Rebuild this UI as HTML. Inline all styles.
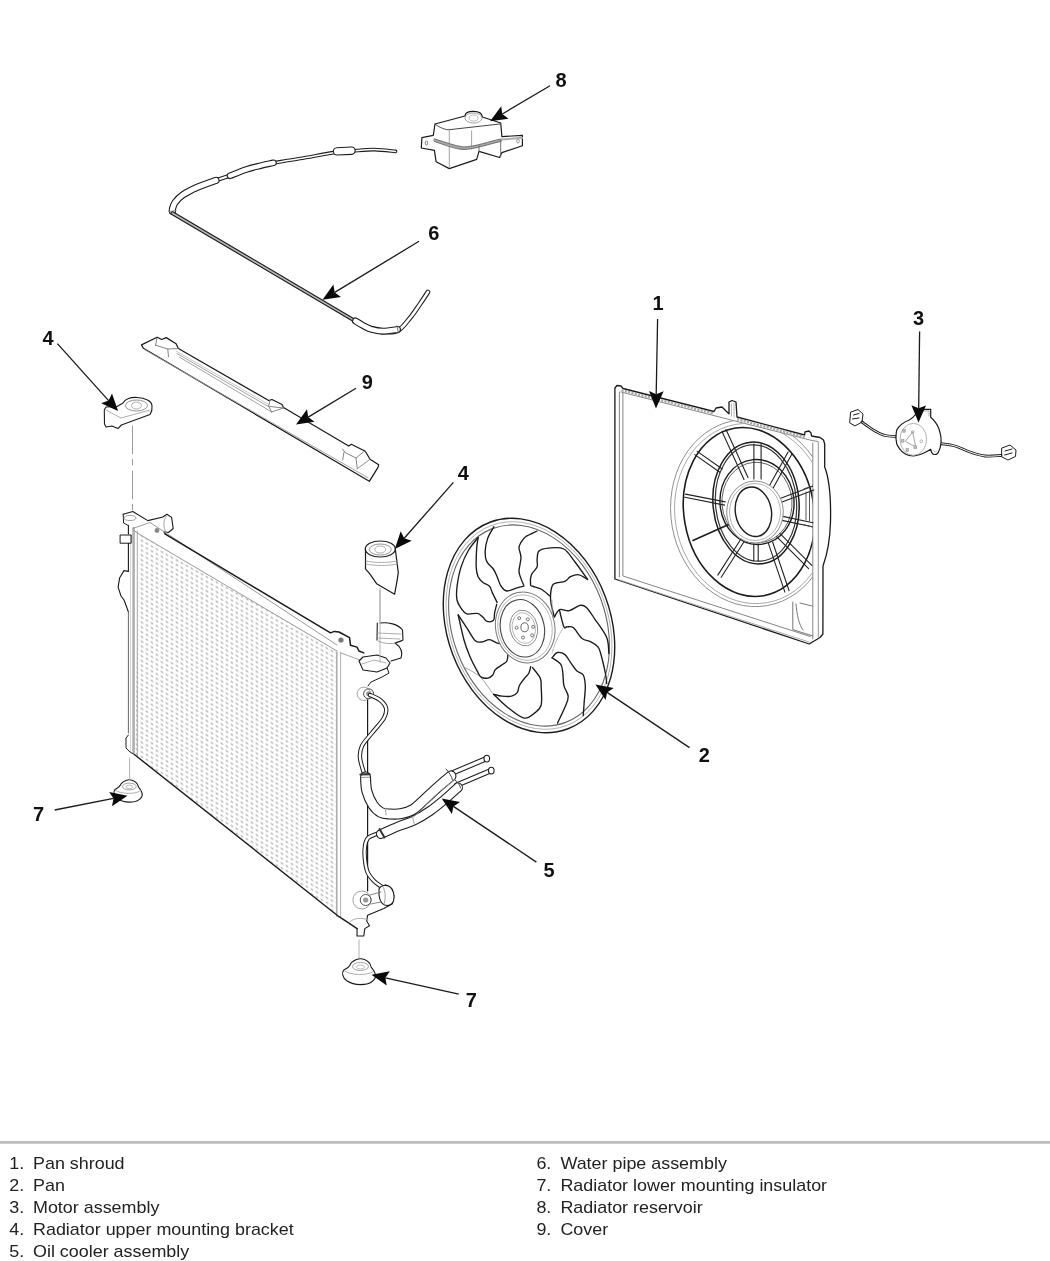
<!DOCTYPE html>
<html><head><meta charset="utf-8"><style>
html,body{margin:0;padding:0;background:#fff;}
body{width:1050px;height:1261px;overflow:hidden;}
svg{display:block;}
#wrap{width:1050px;height:1261px;will-change:transform;}
.lb{font-family:"Liberation Sans",sans-serif;font-weight:bold;font-size:20px;fill:#111;}
.lg{font-family:"Liberation Sans",sans-serif;font-size:16px;fill:#222;}
</style></head><body>
<div id="wrap"><svg width="1050" height="1261" viewBox="0 0 1050 1261">
<rect x="0" y="1141" width="1050" height="2.8" fill="#bfbfbf"/>
<defs>
<pattern id="dots" width="5" height="4.8" patternUnits="userSpaceOnUse" patternTransform="skewY(29)">
<rect x="0.6" y="0.6" width="2.6" height="1.7" fill="#b6b6b6"/>
</pattern>
</defs>
<path d="M139,534 L337,651 L337,915 L135,755 Z" fill="url(#dots)"/>
<path d="M133.6,528 L133.6,753" fill="none" stroke="#b0b0b0" stroke-width="2.6" stroke-linejoin="round" stroke-linecap="round" />
<path d="M137.3,531 L137.3,756" fill="none" stroke="#a8a8a8" stroke-width="1.0" stroke-linejoin="round" stroke-linecap="round" />
<path d="M130.5,535 L130.5,752" fill="none" stroke="#c8c8c8" stroke-width="0.8" stroke-linejoin="round" stroke-linecap="round" />
<path d="M128.4,525.4 L128.4,534 M128.4,543.2 L128.4,571.4 L124,570.6 L119.7,577.7 L118.1,587.2 L121,596 L124,600 L127,608 L128.4,612" fill="none" stroke="#1a1a1a" stroke-width="1.1" stroke-linejoin="round" stroke-linecap="round" />
<path d="M128.4,612 L128.4,733" fill="none" stroke="#666" stroke-width="1.0" stroke-linejoin="round" stroke-linecap="round" />
<path d="M120.5,535 L131.2,535 L131.2,543.2 L120.5,543.2 Z" fill="none" stroke="#1a1a1a" stroke-width="1.0" stroke-linejoin="round" stroke-linecap="round" />
<path d="M128.4,735 L126,738 L126,748 L130,752 L135,755" fill="none" stroke="#1a1a1a" stroke-width="1.0" stroke-linejoin="round" stroke-linecap="round" />
<path d="M123.2,514.3 L132.8,511.5 L147.8,520.6 L162.9,517 L166.9,514.3 L171.6,517.4 L173.2,528.5 L168.4,532.5 L163.7,531.7 L165.3,534.1" fill="none" stroke="#1a1a1a" stroke-width="1.1" stroke-linejoin="round" stroke-linecap="round" />
<path d="M123.2,514.3 L123.6,523 L128,525.4" fill="none" stroke="#1a1a1a" stroke-width="1.0" stroke-linejoin="round" stroke-linecap="round" />
<ellipse cx="130" cy="518" rx="6" ry="2.6" fill="none" stroke="#999" stroke-width="0.9"/>
<path d="M166.5,516 C163,520 163,528 166,532" fill="none" stroke="#9a9a9a" stroke-width="0.9" stroke-linejoin="round" stroke-linecap="round" />
<path d="M132.8,528.5 L150,522.5 L337,645" fill="none" stroke="#9a9a9a" stroke-width="1.0" stroke-linejoin="round" stroke-linecap="round" />
<path d="M139,534 L337,651" fill="none" stroke="#9a9a9a" stroke-width="1.0" stroke-linejoin="round" stroke-linecap="round" />
<path d="M133,530 L139,534" fill="none" stroke="#9a9a9a" stroke-width="1.0" stroke-linejoin="round" stroke-linecap="round" />
<path d="M165.3,534.1 L330.5,632.9 L334.3,631.4 L339,632 L349.5,637.6 L350.5,645.2 L357,647.1 L359,651 L363.8,652.9" fill="none" stroke="#1a1a1a" stroke-width="1.5" stroke-linejoin="round" stroke-linecap="round" />
<circle cx="341" cy="640" r="2.6" fill="#777"/>
<circle cx="157" cy="530.5" r="2.4" fill="#888"/>
<path d="M336.8,652 L336.8,916" fill="none" stroke="#b0b0b0" stroke-width="1.6" stroke-linejoin="round" stroke-linecap="round" />
<path d="M340.6,652 L340.6,917" fill="none" stroke="#a8a8a8" stroke-width="0.9" stroke-linejoin="round" stroke-linecap="round" />
<path d="M341,653 L360,660" fill="none" stroke="#9a9a9a" stroke-width="0.9" stroke-linejoin="round" stroke-linecap="round" />
<path d="M367.6,699 L367.6,891" fill="none" stroke="#1a1a1a" stroke-width="1.2" stroke-linejoin="round" stroke-linecap="round" />
<path d="M135,755 L339,916.7 L348.6,922.9 L357.1,928.6" fill="none" stroke="#1a1a1a" stroke-width="1.4" stroke-linejoin="round" stroke-linecap="round" />
<path d="M357.1,928.6 L357,936 L363.8,936 L364.8,928.6 L369.5,925.7 L366.7,921 L367.6,915.2 L383.8,908.6 L392.4,903.8 L394,896 L391,888 L386,885 L379,886.7" fill="none" stroke="#1a1a1a" stroke-width="1.1" stroke-linejoin="round" stroke-linecap="round" />
<path d="M349,923 C352,918 362,917 368,920" fill="none" stroke="#9a9a9a" stroke-width="0.8" stroke-linejoin="round" stroke-linecap="round" />
<path d="M359,940 L359,958" fill="none" stroke="#aaa" stroke-width="0.9" stroke-linejoin="round" stroke-linecap="round" />
<circle cx="361.9" cy="900" r="9" fill="none" stroke="#999" stroke-width="0.9"/>
<circle cx="365.7" cy="900" r="5.5" fill="none" stroke="#555" stroke-width="1"/>
<circle cx="365.7" cy="900" r="2.6" fill="#999"/>
<circle cx="363.8" cy="693.8" r="6.7" fill="none" stroke="#999" stroke-width="0.9"/>
<circle cx="368.6" cy="693.8" r="5" fill="none" stroke="#444" stroke-width="1"/>
<circle cx="368.6" cy="693.8" r="2.5" fill="#999"/>
<path d="M359,661 L363,657 L377,655 L386,658 L390,663 L387,668 L377,672 L363,670 Z" fill="none" stroke="#1a1a1a" stroke-width="1.1" stroke-linejoin="round" stroke-linecap="round" />
<path d="M362,664 L374,660 L386,663" fill="none" stroke="#9a9a9a" stroke-width="0.8" stroke-linejoin="round" stroke-linecap="round" />
<path d="M377.3,623 L377,640 M380,623 C388,622 398,624 402.5,630 L403,640 C400,642 397,642 395,643 C401,647 403,652 401,658 L391,661" fill="none" stroke="#1a1a1a" stroke-width="1.1" stroke-linejoin="round" stroke-linecap="round" />
<path d="M377,633 L401,634 M377,638 L400,639" fill="none" stroke="#9a9a9a" stroke-width="0.8" stroke-linejoin="round" stroke-linecap="round" />
<path d="M378,641 C384,644 392,644 395,643" fill="none" stroke="#9a9a9a" stroke-width="0.9" stroke-linejoin="round" stroke-linecap="round" />
<path d="M380,588 L380,662" fill="none" stroke="#aaa" stroke-width="0.9" stroke-linejoin="round" stroke-linecap="round" />
<path d="M387,668 L389,673 L382,677 L371,682 L368,686" fill="none" stroke="#1a1a1a" stroke-width="1.0" stroke-linejoin="round" stroke-linecap="round" />
<g transform="translate(529,625.5) rotate(-20.7) scale(0.816,1.104)">
<circle cx="0" cy="0" r="100" fill="none" stroke="#1c1c1c" stroke-width="1.4" vector-effect="non-scaling-stroke"/>
<circle cx="0" cy="0" r="96.8" fill="none" stroke="#aaa" stroke-width="0.9" vector-effect="non-scaling-stroke"/>
<circle cx="0" cy="0" r="93.8" fill="none" stroke="#666" stroke-width="1.1" vector-effect="non-scaling-stroke"/>
</g>
<path d="M478.1,537.6 C477.9,539.4 477.0,543.2 476.7,548.1 C476.4,553.0 476.0,562.3 476.2,567.1 C476.4,571.9 477.0,574.2 478.1,576.7 C479.2,579.2 481.0,580.8 482.9,582.4 C484.8,584.0 487.9,584.5 489.5,586.2 C491.1,588.0 491.1,590.2 492.4,592.9 C493.7,595.6 496.3,600.8 497.1,602.4" fill="none" stroke="#1a1a1a" stroke-width="1.35" stroke-linejoin="round" stroke-linecap="round" />
<path d="M478.1,537.6 C476.5,539.7 471.5,545.1 468.6,550.0 C465.8,554.9 462.9,561.1 461.0,567.1 C459.1,573.1 457.8,580.7 457.1,586.2 C456.4,591.7 456.3,596.3 457.0,600.0 C457.7,603.7 459.8,606.3 461.4,608.6 C463.0,610.9 464.1,613.1 466.8,613.9 C469.5,614.7 474.8,612.9 477.5,613.4 C480.2,613.9 481.2,615.8 482.8,617.1 C484.4,618.4 485.3,620.9 487.1,621.4 C488.9,621.9 492.2,621.7 493.5,620.3 C494.8,618.9 494.1,615.5 494.6,612.8 C495.1,610.1 496.4,605.7 496.7,604.3" fill="none" stroke="#1a1a1a" stroke-width="1.35" stroke-linejoin="round" stroke-linecap="round" />
<path d="M493.8,526.7 C492.8,528.7 489.0,534.6 487.6,538.6 C486.2,542.6 485.4,547.2 485.2,551.0 C485.0,554.8 485.3,558.4 486.7,561.4 C488.1,564.4 491.6,566.5 493.3,569.0 C495.0,571.5 495.8,573.8 497.1,576.7 C498.4,579.6 499.4,583.8 501.0,586.2 C502.6,588.6 504.2,590.7 506.7,591.0 C509.2,591.3 513.4,588.9 516.2,588.1 C519.1,587.3 522.5,586.5 523.8,586.2" fill="none" stroke="#1a1a1a" stroke-width="1.35" stroke-linejoin="round" stroke-linecap="round" />
<path d="M537.1,531.0 C535.2,532.0 528.4,534.8 525.7,536.7 C523.0,538.6 522.1,540.5 521.0,542.4 C519.9,544.3 519.0,545.5 519.0,548.0 C519.0,550.5 521.0,553.8 521.0,557.6 C521.0,561.4 519.0,567.5 519.0,571.0 C519.0,574.5 520.2,576.2 521.0,578.6 C521.8,581.0 523.3,584.1 523.8,585.2" fill="none" stroke="#1a1a1a" stroke-width="1.35" stroke-linejoin="round" stroke-linecap="round" />
<path d="M587.6,579.5 C585.5,576.6 579.0,567.1 575.0,562.0 C571.0,556.9 568.2,551.3 563.8,549.0 C559.4,546.7 552.7,547.8 548.6,548.1 C544.5,548.4 540.9,549.1 539.0,551.0 C537.1,552.9 537.4,556.8 537.1,559.5 C536.8,562.2 538.1,564.6 537.1,567.1 C536.1,569.6 532.5,571.9 531.4,574.8 C530.3,577.7 530.3,582.4 530.5,584.3 C530.7,586.2 530.6,585.4 532.4,586.2 C534.1,587.0 538.1,587.4 541.0,589.0 C543.9,590.6 548.1,594.6 549.5,595.7" fill="none" stroke="#1a1a1a" stroke-width="1.35" stroke-linejoin="round" stroke-linecap="round" />
<path d="M587.6,579.5 C586.2,578.7 581.9,575.3 579.0,574.8 C576.1,574.3 572.9,575.6 570.5,576.7 C568.1,577.8 567.7,580.1 564.8,581.4 C561.9,582.7 555.7,581.9 553.3,584.3 C550.9,586.7 550.8,592.2 550.5,595.7 C550.2,599.2 550.8,601.7 551.4,605.2 C552.0,608.7 553.8,614.8 554.3,616.7" fill="none" stroke="#1a1a1a" stroke-width="1.35" stroke-linejoin="round" stroke-linecap="round" />
<path d="M554.3,617.1 C555.2,615.9 557.1,610.7 559.6,609.6 C562.1,608.5 565.9,611.4 569.3,610.7 C572.7,610.0 577.1,605.9 580.0,605.4 C582.9,604.9 583.9,605.2 586.4,607.5 C588.9,609.8 591.6,614.3 595.0,619.3 C598.4,624.3 604.4,631.8 606.7,637.5 C609.0,643.2 608.5,650.8 608.9,653.5" fill="none" stroke="#1a1a1a" stroke-width="1.35" stroke-linejoin="round" stroke-linecap="round" />
<path d="M559.6,610.7 C560.3,613.4 562.6,624.1 563.9,626.8 C565.1,629.5 565.5,626.6 567.1,626.8 C568.7,627.0 571.0,625.8 573.5,627.8 C576.0,629.8 579.2,636.2 582.1,638.5 C585.0,640.8 588.0,640.4 590.7,641.8 C593.4,643.2 596.2,644.1 598.2,647.1 C600.2,650.1 601.1,655.4 602.4,660.0 C603.6,664.6 605.0,671.1 605.7,675.0 C606.4,678.9 606.5,682.1 606.7,683.5" fill="none" stroke="#1a1a1a" stroke-width="1.35" stroke-linejoin="round" stroke-linecap="round" />
<path d="M552.1,657.8 C553.0,656.9 555.4,653.0 557.5,652.5 C559.6,652.0 562.9,653.0 565.0,654.6 C567.1,656.2 568.3,659.4 570.3,662.1 C572.2,664.8 574.6,668.6 576.7,670.7 C578.9,672.9 581.8,672.5 583.2,675.0 C584.6,677.5 585.1,681.2 585.3,685.7 C585.5,690.2 584.6,696.7 584.2,701.7 C583.9,706.7 583.4,713.3 583.2,715.6" fill="none" stroke="#1a1a1a" stroke-width="1.35" stroke-linejoin="round" stroke-linecap="round" />
<path d="M552.1,657.8 C553.5,658.9 558.9,661.7 560.7,664.2 C562.5,666.7 562.3,669.2 562.8,672.8 C563.3,676.4 563.0,681.8 563.9,685.7 C564.8,689.6 568.0,692.8 568.2,696.4 C568.4,700.0 566.8,702.6 565.0,707.1 C563.2,711.6 558.8,720.4 557.5,723.1" fill="none" stroke="#1a1a1a" stroke-width="1.35" stroke-linejoin="round" stroke-linecap="round" />
<path d="M532.6,667.6 C533.9,669.4 538.8,674.8 540.2,678.1 C541.6,681.4 541.0,683.2 541.2,687.6 C541.4,692.0 542.2,700.7 541.2,704.8 C540.2,708.9 538.4,710.2 535.5,712.4 C532.6,714.6 528.8,719.0 524.0,718.1 C519.2,717.2 512.0,710.7 506.9,706.7 C501.8,702.7 495.8,696.4 493.6,694.3" fill="none" stroke="#1a1a1a" stroke-width="1.35" stroke-linejoin="round" stroke-linecap="round" />
<path d="M530.7,666.7 C530.4,667.8 529.9,671.2 528.8,673.3 C527.7,675.3 525.6,676.9 524.0,679.0 C522.4,681.1 520.4,683.5 519.3,685.7 C518.2,687.9 518.7,690.6 517.4,692.4 C516.1,694.1 514.2,695.6 511.7,696.2 C509.1,696.8 505.1,696.5 502.1,696.2 C499.1,695.9 495.0,694.6 493.6,694.3" fill="none" stroke="#1a1a1a" stroke-width="1.35" stroke-linejoin="round" stroke-linecap="round" />
<path d="M458.2,615.0 C459.2,619.2 462.1,633.1 464.0,640.0 C465.9,646.9 467.6,651.0 469.8,656.2 C472.0,661.4 475.5,667.9 477.4,671.4 C479.3,674.9 479.4,676.0 481.2,677.1 C482.9,678.2 486.0,678.4 487.9,678.1 C489.8,677.8 491.3,676.6 492.6,675.2 C493.9,673.8 493.9,671.2 495.5,669.5 C497.1,667.8 500.2,666.2 502.1,664.8 C504.0,663.4 505.9,662.8 506.9,661.0 C507.9,659.2 507.7,655.4 507.9,654.3" fill="none" stroke="#1a1a1a" stroke-width="1.35" stroke-linejoin="round" stroke-linecap="round" />
<path d="M458.2,615.0 C459.6,617.1 463.9,623.5 466.8,627.8 C469.7,632.1 472.6,638.4 475.3,640.7 C478.0,643.0 480.5,642.0 482.8,641.8 C485.1,641.6 487.0,639.4 489.3,639.6 C491.6,639.8 494.8,642.1 496.7,642.8 C498.6,643.5 500.3,643.7 501.0,643.9" fill="none" stroke="#1a1a1a" stroke-width="1.35" stroke-linejoin="round" stroke-linecap="round" />
<path d="M463.1,666.7 C465.8,668.3 474.4,671.8 479.3,676.2 C484.2,680.6 490.4,690.4 492.6,693.3" fill="none" stroke="#999" stroke-width="0.9" stroke-linejoin="round" stroke-linecap="round" />
<path d="M552.1,600 L552.1,616 M552,653 C556,640 560,633 563,628" fill="none" stroke="#aaa" stroke-width="0.8" stroke-linejoin="round" stroke-linecap="round" />
<ellipse cx="525.2" cy="627.4" rx="29.5" ry="35.7" transform="rotate(-12 525.2 627.4)" fill="#fff" stroke="#777" stroke-width="1"/>
<ellipse cx="525" cy="627.6" rx="27" ry="33" transform="rotate(-12 525 627.6)" fill="none" stroke="#aaa" stroke-width="0.8"/>
<ellipse cx="522.4" cy="628.3" rx="21.9" ry="29" transform="rotate(-12 522.4 628.3)" fill="none" stroke="#444" stroke-width="1.1"/>
<ellipse cx="523.8" cy="628" rx="13.8" ry="18" transform="rotate(-12 523.8 628)" fill="none" stroke="#888" stroke-width="0.9"/>
<ellipse cx="523.8" cy="628" rx="11.5" ry="15.5" transform="rotate(-12 523.8 628)" fill="none" stroke="#aaa" stroke-width="0.8"/>
<ellipse cx="524.6" cy="627.3" rx="3.7" ry="4.5" fill="none" stroke="#555" stroke-width="0.9"/>
<circle cx="519.2" cy="618.2" r="1.5" fill="none" stroke="#555" stroke-width="0.8"/>
<circle cx="527.8" cy="619.3" r="1.5" fill="none" stroke="#555" stroke-width="0.8"/>
<circle cx="533.1" cy="626.8" r="1.5" fill="none" stroke="#555" stroke-width="0.8"/>
<circle cx="532.1" cy="635.3" r="1.5" fill="none" stroke="#555" stroke-width="0.8"/>
<circle cx="523" cy="637.5" r="1.5" fill="none" stroke="#555" stroke-width="0.8"/>
<circle cx="516.6" cy="627.8" r="1.5" fill="none" stroke="#555" stroke-width="0.8"/>
<path d="M614.9,579 L614.9,388 L617,385.5 L621,386 L623,388.5 L714,411.5 L716,408 L722,407 L726,411 L729,413.8 L729,402 L732,400.5 L736,402 L737,417 L804.6,435 L805,431.8 L809,431 L811,433 L811.5,436 L820,437.5 L823.5,440 L824.7,444 L824.7,467 C829,478 831,500 830.5,522 C830,540 827,555 823,566 L822.9,634 L820,637.5 L809.2,644 Z" fill="none" stroke="#1a1a1a" stroke-width="1.3" stroke-linejoin="round" stroke-linecap="round" />
<path d="M621,392 L804,438.5 L812,440.5 L818,441.5" fill="none" stroke="#8a8a8a" stroke-width="1.0" stroke-linejoin="round" stroke-linecap="round" />
<path d="M621.5,390.4 L714,413.5 M737,419.2 L804.6,437" fill="none" stroke="#aaa" stroke-width="2.6" stroke-dasharray="2.2,1.2"/>
<path d="M619.4,392 L619.4,577" fill="none" stroke="#777" stroke-width="0.9" stroke-linejoin="round" stroke-linecap="round" />
<path d="M622.9,393 L622.9,576 L810.3,636.5" fill="none" stroke="#777" stroke-width="0.9" stroke-linejoin="round" stroke-linecap="round" />
<path d="M619.4,580 L809,642" fill="none" stroke="#999" stroke-width="0.8" stroke-linejoin="round" stroke-linecap="round" />
<path d="M812.8,443 L812.8,639" fill="none" stroke="#777" stroke-width="0.9" stroke-linejoin="round" stroke-linecap="round" />
<path d="M818.3,442 L818.3,637" fill="none" stroke="#888" stroke-width="0.9" stroke-linejoin="round" stroke-linecap="round" />
<path d="M792.8,602 L792.8,629.6 L812.8,636 M796,604 C797,615 799,625 803,630 M800,603 L812,606" fill="none" stroke="#666" stroke-width="0.9" stroke-linejoin="round" stroke-linecap="round" />
<path d="M731.5,404 L731.5,416 M734,403 L734,417" fill="none" stroke="#999" stroke-width="0.7" stroke-linejoin="round" stroke-linecap="round" />
<clipPath id="shc"><path d="M615,390 L812.5,441 L812.5,640 L615,579 Z"/></clipPath>
<g clip-path="url(#shc)">
<ellipse cx="751" cy="513" rx="80" ry="94" transform="rotate(-10 751 513)" fill="none" stroke="#8a8a8a" stroke-width="0.9"/>
<ellipse cx="751.5" cy="513.5" rx="76.5" ry="90.5" transform="rotate(-10 751.5 513.5)" fill="none" stroke="#a5a5a5" stroke-width="0.9"/>
<ellipse cx="749" cy="512" rx="65" ry="85" transform="rotate(-10 749 512)" fill="none" stroke="#1c1c1c" stroke-width="1.6"/>
</g>
<ellipse cx="756" cy="503" rx="43" ry="61" transform="rotate(-5 756 503)" fill="none" stroke="#1c1c1c" stroke-width="1.5"/>
<ellipse cx="756" cy="503" rx="40.5" ry="58.3" transform="rotate(-5 756 503)" fill="none" stroke="#333" stroke-width="1.2"/>
<ellipse cx="757" cy="502" rx="37" ry="42.5" transform="rotate(-5 757 502)" fill="none" stroke="#1c1c1c" stroke-width="1.4"/>
<ellipse cx="757" cy="502.5" rx="35" ry="40.3" transform="rotate(-5 757 502.5)" fill="none" stroke="#555" stroke-width="0.9"/>
<path d="M722.0,431.4 L744.0,479.4 M726.0,429.6 L748.0,477.6" fill="none" stroke="#222" stroke-width="1.1" stroke-linejoin="round" stroke-linecap="round" />
<path d="M694.8,454.6 L719.8,472.2 M697.2,451.4 L722.2,469.0" fill="none" stroke="#222" stroke-width="1.1" stroke-linejoin="round" stroke-linecap="round" />
<path d="M684.9,497.3 L724.6,505.1 M685.5,494.1 L725.2,501.9" fill="none" stroke="#222" stroke-width="1.1" stroke-linejoin="round" stroke-linecap="round" />
<path d="M692.9,540.4 L728.7,524.4" fill="none" stroke="#1c1c1c" stroke-width="1.6" stroke-linejoin="round" stroke-linecap="round" />
<path d="M721.2,577.3 L743.7,542.2 M717.8,575.1 L740.3,540.0" fill="none" stroke="#222" stroke-width="1.1" stroke-linejoin="round" stroke-linecap="round" />
<path d="M789.1,590.7 L772.6,542.0 M784.9,592.1 L768.4,543.4" fill="none" stroke="#222" stroke-width="1.1" stroke-linejoin="round" stroke-linecap="round" />
<path d="M811.8,565.4 L779.8,533.4 M808.6,568.6 L776.6,536.6" fill="none" stroke="#222" stroke-width="1.1" stroke-linejoin="round" stroke-linecap="round" />
<path d="M813.0,522.7 L780.4,515.9 M812.2,526.7 L779.6,519.9" fill="none" stroke="#222" stroke-width="1.1" stroke-linejoin="round" stroke-linecap="round" />
<path d="M812.5,486.2 L776.0,500.0 M813.9,490.0 L777.4,503.8" fill="none" stroke="#222" stroke-width="1.1" stroke-linejoin="round" stroke-linecap="round" />
<path d="M788.1,451.9 L769.1,486.2 M791.9,454.1 L772.9,488.4" fill="none" stroke="#222" stroke-width="1.1" stroke-linejoin="round" stroke-linecap="round" />
<path d="M753.9,444.0 L753.9,479.0 M761.1,444.0 L761.1,479.0" fill="none" stroke="#222" stroke-width="1.1" stroke-linejoin="round" stroke-linecap="round" />
<path d="M753.8,544.0 L753.8,561.0 M758.2,544.0 L758.2,561.0" fill="none" stroke="#222" stroke-width="1.1" stroke-linejoin="round" stroke-linecap="round" />
<ellipse cx="755" cy="512" rx="28.3" ry="31" fill="#fff" stroke="#8a8a8a" stroke-width="1"/>
<ellipse cx="755" cy="512" rx="25.5" ry="28.5" fill="none" stroke="#aaa" stroke-width="0.9"/>
<ellipse cx="753.4" cy="511.8" rx="18" ry="24.9" transform="rotate(-10 753.4 511.8)" fill="none" stroke="#1c1c1c" stroke-width="1.4"/>
<path d="M804,488.7 L812.6,486 M804,524.7 L812.6,527 M806,492 L806,520 M809.5,491 L809.5,521" fill="none" stroke="#444" stroke-width="0.9" stroke-linejoin="round" stroke-linecap="round" />
<path d="M395.5,151.4 C392.0,151.1 381.4,149.7 374.3,149.6 C367.2,149.5 359.4,150.5 352.9,151.0 C346.3,151.5 343.8,151.1 335.0,152.4 C326.2,153.7 310.6,156.8 300.0,158.6 C289.4,160.4 276.2,162.4 271.4,163.2" fill="none" stroke="#1c1c1c" stroke-width="3.6" stroke-linecap="round" stroke-linejoin="round"/>
<path d="M395.5,151.4 C392.0,151.1 381.4,149.7 374.3,149.6 C367.2,149.5 359.4,150.5 352.9,151.0 C346.3,151.5 343.8,151.1 335.0,152.4 C326.2,153.7 310.6,156.8 300.0,158.6 C289.4,160.4 276.2,162.4 271.4,163.2" fill="none" stroke="#fff" stroke-width="1.5" stroke-linecap="round" stroke-linejoin="round"/>
<path d="M231,175.2 L214,181" fill="none" stroke="#1c1c1c" stroke-width="4.2" stroke-linecap="round" stroke-linejoin="round"/>
<path d="M231,175.2 L214,181" fill="none" stroke="#fff" stroke-width="2.1" stroke-linecap="round" stroke-linejoin="round"/>
<path d="M273.5,162.8 C270.9,163.4 262.5,165.2 258.0,166.3 C253.5,167.4 251.4,167.8 246.7,169.4 C242.0,171.0 232.8,174.7 230.0,175.8" fill="none" stroke="#1c1c1c" stroke-width="6.6" stroke-linecap="round" stroke-linejoin="round"/>
<path d="M273.5,162.8 C270.9,163.4 262.5,165.2 258.0,166.3 C253.5,167.4 251.4,167.8 246.7,169.4 C242.0,171.0 232.8,174.7 230.0,175.8" fill="none" stroke="#fff" stroke-width="4.3999999999999995" stroke-linecap="round" stroke-linejoin="round"/>
<path d="M216.0,180.4 C212.8,181.6 202.6,185.0 197.1,187.4 C191.6,189.8 186.7,192.3 183.0,194.8 C179.3,197.3 176.8,200.2 175.0,202.6 C173.2,205.0 172.8,208.0 172.4,209.4 C172.0,210.8 172.4,210.9 172.4,211.2" fill="none" stroke="#1c1c1c" stroke-width="7.2" stroke-linecap="round" stroke-linejoin="round"/>
<path d="M216.0,180.4 C212.8,181.6 202.6,185.0 197.1,187.4 C191.6,189.8 186.7,192.3 183.0,194.8 C179.3,197.3 176.8,200.2 175.0,202.6 C173.2,205.0 172.8,208.0 172.4,209.4 C172.0,210.8 172.4,210.9 172.4,211.2" fill="none" stroke="#fff" stroke-width="5.0" stroke-linecap="round" stroke-linejoin="round"/>
<path d="M168.7,211.5 L176.2,210.6" fill="none" stroke="#888" stroke-width="0.9" stroke-linejoin="round" stroke-linecap="round" />
<path d="M337,151.4 L351.5,150.7" fill="none" stroke="#1c1c1c" stroke-width="8.4" stroke-linecap="round" stroke-linejoin="round"/>
<path d="M337,151.4 L351.5,150.7" fill="none" stroke="#fff" stroke-width="6.2" stroke-linecap="round" stroke-linejoin="round"/>
<path d="M172.5,213.2 L354.5,320.6" fill="none" stroke="#1c1c1c" stroke-width="3.9" stroke-linecap="round" stroke-linejoin="round"/>
<path d="M172.5,213.2 L354.5,320.6" fill="none" stroke="#b8b8b8" stroke-width="1.6" stroke-linecap="round" stroke-linejoin="round"/>
<path d="M356.0,322.0 C358.0,323.2 363.5,327.3 368.0,329.0 C372.5,330.7 377.9,331.8 382.9,332.0 C387.9,332.2 393.5,332.8 398.0,330.5 C402.5,328.2 406.3,322.4 410.0,318.0 C413.7,313.6 417.0,308.3 420.0,304.0 C423.0,299.7 426.7,294.0 428.0,292.0" fill="none" stroke="#1c1c1c" stroke-width="4.8" stroke-linecap="round" stroke-linejoin="round"/>
<path d="M356.0,322.0 C358.0,323.2 363.5,327.3 368.0,329.0 C372.5,330.7 377.9,331.8 382.9,332.0 C387.9,332.2 393.5,332.8 398.0,330.5 C402.5,328.2 406.3,322.4 410.0,318.0 C413.7,313.6 417.0,308.3 420.0,304.0 C423.0,299.7 426.7,294.0 428.0,292.0" fill="none" stroke="#fff" stroke-width="2.6999999999999997" stroke-linecap="round" stroke-linejoin="round"/>
<path d="M355.5,321.0 C356.8,321.8 360.4,324.1 363.0,325.5 C365.6,326.9 367.7,328.2 371.0,329.2 C374.3,330.1 378.6,331.1 383.0,331.2 C387.4,331.2 395.1,329.8 397.5,329.5" fill="none" stroke="#1c1c1c" stroke-width="7.0" stroke-linecap="round" stroke-linejoin="round"/>
<path d="M355.5,321.0 C356.8,321.8 360.4,324.1 363.0,325.5 C365.6,326.9 367.7,328.2 371.0,329.2 C374.3,330.1 378.6,331.1 383.0,331.2 C387.4,331.2 395.1,329.8 397.5,329.5" fill="none" stroke="#fff" stroke-width="4.8" stroke-linecap="round" stroke-linejoin="round"/>
<path d="M397,326 L398.5,333" fill="none" stroke="#666" stroke-width="0.9" stroke-linejoin="round" stroke-linecap="round" />
<path d="M141.5,344.9 L157.1,337.2 L161.7,339.5 L166.2,337.6 L176.1,343.7 L178.4,348.5 L268.7,400.5 L272,399.5 L282,404.5 L283.5,407.5 L348.7,446 L351.3,444.3 L365.3,451.3 L370,459.3 L378.7,464.7 L378,467.3 L369.3,481.3 L143.4,348.3 Z" fill="none" stroke="#1a1a1a" stroke-width="1.25" stroke-linejoin="round" stroke-linecap="round" />
<path d="M144.5,349.6 L368,477.8" fill="none" stroke="#999" stroke-width="0.9" stroke-linejoin="round" stroke-linecap="round" />
<path d="M177,353.5 L268.7,406.7 M179.5,357.2 L271.2,411.7" fill="none" stroke="#999" stroke-width="0.9" stroke-linejoin="round" stroke-linecap="round" />
<path d="M176,351 L268,404" fill="none" stroke="#bbb" stroke-width="0.8" stroke-linejoin="round" stroke-linecap="round" />
<path d="M155.6,345.2 L167.8,349 L178.4,348.5 M167.8,349 L168.5,356.7 M157,338 L155.6,345.2" fill="none" stroke="#777" stroke-width="0.9" stroke-linejoin="round" stroke-linecap="round" />
<path d="M268.7,406 L270,400.5 M270,406.5 L283.5,408 M271.5,412 L283.5,408 M268.7,406 L271.5,412" fill="none" stroke="#777" stroke-width="0.9" stroke-linejoin="round" stroke-linecap="round" />
<path d="M342.5,449 L345.3,452.7 L356,458 L363.3,452 L365.3,451.3 M356,458 L357.3,468.7 M342.7,460 L344,452" fill="none" stroke="#777" stroke-width="0.9" stroke-linejoin="round" stroke-linecap="round" />
<path d="M357.3,468.7 L370,459.3" fill="none" stroke="#888" stroke-width="0.9" stroke-linejoin="round" stroke-linecap="round" />
<path d="M433.3,135.4 L421.9,137.7 L421.3,148 L434.4,150.3 L436.1,161.7 L449.3,168.6 L476.7,159.4 L479,151.4 L499.6,157.5 L501.9,152.6 L522.4,145.7 L522.4,135.4 L501.9,136.6 L500.7,123 L482.4,117 C482,113 478,111.4 473.5,111.4 C468,111.4 465,113 465,116 L435,124 Z" fill="none" stroke="#1a1a1a" stroke-width="1.2" stroke-linejoin="round" stroke-linecap="round" />
<path d="M435,124 C440,128 446,130 449.3,129.7 L499.6,124" fill="none" stroke="#444" stroke-width="1.0" stroke-linejoin="round" stroke-linecap="round" />
<path d="M449.3,129.7 L449.3,167.4 M471.6,130.9 L471.6,149" fill="none" stroke="#999" stroke-width="0.9" stroke-linejoin="round" stroke-linecap="round" />
<path d="M434.4,140.2 C445,143.5 455,147.5 463,148.2 C475,148.3 490,142.3 501,140.3" fill="none" stroke="#a8a8a8" stroke-width="2.6" stroke-linejoin="round" stroke-linecap="round" />
<path d="M434.4,138.9 C445,142 455,146 463,146.9 C475,147 490,141 501,139 M434.4,141.5 C445,145 455,149 463,149.5 C475,149.5 490,143.5 501,141.5" fill="none" stroke="#666" stroke-width="0.9" stroke-linejoin="round" stroke-linecap="round" />
<path d="M501.9,139.5 L522,137.8" fill="none" stroke="#b0b0b0" stroke-width="2.2" stroke-linejoin="round" stroke-linecap="round" />
<path d="M500.7,140 L500.7,157 M479,151.4 L479,146" fill="none" stroke="#666" stroke-width="0.9" stroke-linejoin="round" stroke-linecap="round" />
<ellipse cx="473.5" cy="118" rx="8.5" ry="5" fill="none" stroke="#999" stroke-width="0.9"/>
<ellipse cx="473.5" cy="118" rx="4.5" ry="3" fill="none" stroke="#aaa" stroke-width="0.8"/>
<ellipse cx="426.5" cy="143" rx="1.3" ry="2" fill="none" stroke="#666" stroke-width="0.8"/>
<ellipse cx="518" cy="141" rx="1.3" ry="2" fill="none" stroke="#888" stroke-width="0.8"/>
<path d="M897.0,436.5 C895.0,436.3 888.7,436.4 885.0,435.5 C881.3,434.6 878.2,432.8 875.0,431.0 C871.8,429.2 868.2,426.5 866.0,425.0 C863.8,423.5 862.7,422.5 862.0,422.0" fill="none" stroke="#1c1c1c" stroke-width="2.8" stroke-linecap="round" stroke-linejoin="round"/>
<path d="M897.0,436.5 C895.0,436.3 888.7,436.4 885.0,435.5 C881.3,434.6 878.2,432.8 875.0,431.0 C871.8,429.2 868.2,426.5 866.0,425.0 C863.8,423.5 862.7,422.5 862.0,422.0" fill="none" stroke="#fff" stroke-width="0.9999999999999998" stroke-linecap="round" stroke-linejoin="round"/>
<path d="M940.0,443.5 C942.5,443.9 950.0,444.6 955.0,446.0 C960.0,447.4 965.0,450.3 970.0,452.0 C975.0,453.7 979.8,455.4 985.0,456.0 C990.2,456.6 998.3,455.6 1001.0,455.5" fill="none" stroke="#1c1c1c" stroke-width="2.8" stroke-linecap="round" stroke-linejoin="round"/>
<path d="M940.0,443.5 C942.5,443.9 950.0,444.6 955.0,446.0 C960.0,447.4 965.0,450.3 970.0,452.0 C975.0,453.7 979.8,455.4 985.0,456.0 C990.2,456.6 998.3,455.6 1001.0,455.5" fill="none" stroke="#fff" stroke-width="0.9999999999999998" stroke-linecap="round" stroke-linejoin="round"/>
<path d="M851,412 L858,409.5 L863,414 L862,422 L855,426 L850,423 Z M853.5,415 L859,413.5 M852.5,419 L859,418" fill="none" stroke="#1a1a1a" stroke-width="1.0" stroke-linejoin="round" stroke-linecap="round" />
<path d="M1002,448 L1010,445 L1016,450 L1015.5,456.5 L1008,460 L1002,457 Z M1005,451 L1012,449 M1004.5,455 L1012,453" fill="none" stroke="#1a1a1a" stroke-width="1.0" stroke-linejoin="round" stroke-linecap="round" />
<path d="M896.7,430 C899,426 904,422 909.3,420 C912,418.5 914,416.5 915,415 L923.3,410.5 L923.3,409.3 L930.7,409.3 L930.7,417.3 C934,420 937,424 939,429 C941,435 941.5,441 940.7,445 C940.5,448 939.5,450 938.5,452 C937.5,454.5 935,455 933,454 C931.5,453 931,451 930.7,449.3 C928,451 925.5,452.5 923.3,453.3 C919,455 916,456 913.3,456 C910,456 907.5,455.3 905.3,454 C902.5,452.5 901,451 900,449.3 C898,446.5 897,445 896.7,443.3 C896,440 895.8,438 896,436.7 C896.1,434 896.3,432 896.7,430 Z" fill="#fff" stroke="#1a1a1a" stroke-width="1.2" stroke-linejoin="round" stroke-linecap="round" />
<ellipse cx="913.3" cy="439.3" rx="13.3" ry="16" fill="none" stroke="#aaa" stroke-width="0.9"/>
<path d="M924,411 L929,411 L929,416 M933,450 C934,452 936,452.5 937,451" fill="none" stroke="#999" stroke-width="0.8" stroke-linejoin="round" stroke-linecap="round" />
<path d="M912.7,432 L905.3,441.3 L916,447.3 M912.7,432 L915.5,446" fill="none" stroke="#999" stroke-width="0.9" stroke-linejoin="round" stroke-linecap="round" />
<rect x="902.7" y="429.2" width="2.6" height="3" fill="#bbb" stroke="#999" stroke-width="0.6"/>
<rect x="901.4000000000001" y="439.2" width="2.6" height="3" fill="#bbb" stroke="#999" stroke-width="0.6"/>
<rect x="906.0" y="448.5" width="2.6" height="3" fill="#bbb" stroke="#999" stroke-width="0.6"/>
<rect x="914.0" y="445.8" width="2.6" height="3" fill="#bbb" stroke="#999" stroke-width="0.6"/>
<circle cx="921.3" cy="441.3" r="1.4" fill="none" stroke="#999" stroke-width="0.7"/>
<circle cx="912.7" cy="432" r="1.4" fill="none" stroke="#999" stroke-width="0.7"/>
<path d="M104.3,410 L106,407 L117,406.5 L123,403 C125,399 131,397 137,397.5 C145,398 152,401 152,406 C152.5,410 151,413 150,414.5 L121.4,425 L118,428.6 L112,426 L106,427 L104.5,424 Z" fill="none" stroke="#1a1a1a" stroke-width="1.1" stroke-linejoin="round" stroke-linecap="round" />
<ellipse cx="136.5" cy="405.5" rx="11" ry="5.5" fill="none" stroke="#888" stroke-width="0.9"/>
<ellipse cx="136.5" cy="405.5" rx="5" ry="3.5" fill="none" stroke="#999" stroke-width="0.8"/>
<path d="M106,410 L121,418 L150,410" fill="none" stroke="#999" stroke-width="0.8" stroke-linejoin="round" stroke-linecap="round" />
<path d="M132.5,425.6 L132.5,511.5" fill="none" stroke="#9a9a9a" stroke-width="1" stroke-dasharray="28.5 4.8 6.3 5.4"/>
<ellipse cx="380.3" cy="549" rx="15" ry="8" fill="#fff" stroke="#1c1c1c" stroke-width="1.2"/>
<ellipse cx="380.3" cy="549.5" rx="11" ry="5.5" fill="none" stroke="#888" stroke-width="0.9"/>
<ellipse cx="380.3" cy="549.5" rx="5.5" ry="3.5" fill="none" stroke="#999" stroke-width="0.8"/>
<path d="M365.5,549 L365.5,568.9 L369.8,573.8 L376.6,583.7 L394.6,594.2 L397,581.2 L398.3,572.6 L395.3,549" fill="none" stroke="#1a1a1a" stroke-width="1.2" stroke-linejoin="round" stroke-linecap="round" />
<path d="M366,561 C375,563 388,563 397.5,561 M366,564 C375,566 388,566 397.5,564" fill="none" stroke="#999" stroke-width="0.8" stroke-linejoin="round" stroke-linecap="round" />
<path d="M380,590 L380,622" fill="none" stroke="#aaa" stroke-width="0.9" stroke-linejoin="round" stroke-linecap="round" />
<path d="M114.9,789.6 C113.1,791.7 113.6,796.0 117.5,798.8 C121.6,801.5 125.9,802.1 129.3,802.1 C133.6,802.1 137.0,801.1 138.4,800.1 C141.3,798.1 142.6,795.5 142.1,793.6 C141.8,791.7 140.9,790.4 140.4,789.6 C139.2,788.2 138.8,787.4 138.4,786.9 C137.9,783.9 135.8,781.8 132.7,780.5 C131.0,779.8 127.6,779.8 125.9,780.5 C122.8,781.8 120.7,783.5 120.1,785.6 C119.0,787.8 116.4,788.6 114.9,789.6 Z" fill="none" stroke="#1a1a1a" stroke-width="1.1" stroke-linejoin="round" stroke-linecap="round" />
<ellipse cx="129.3" cy="786.5" rx="6.9" ry="3.4" fill="none" stroke="#999" stroke-width="0.9"/>
<ellipse cx="129.3" cy="786.9" rx="3.4" ry="1.7" fill="none" stroke="#aaa" stroke-width="0.8"/>
<path d="M115.5,790.4 C120.7,794.2 136.2,794.7 140.9,790.4" fill="none" stroke="#999" stroke-width="0.8" stroke-linejoin="round" stroke-linecap="round" />
<path d="M343.7,970.1 C341.7,972.5 342.2,977.5 346.8,980.8 C351.5,984.0 356.5,984.6 360.5,984.6 C365.5,984.6 369.5,983.5 371.1,982.3 C374.5,980.0 376.0,977.0 375.4,974.7 C375.0,972.5 374.0,971.0 373.4,970.1 C372.0,968.5 371.5,967.5 371.1,967.0 C370.5,963.5 368.1,961.0 364.5,959.5 C362.5,958.7 358.5,958.7 356.5,959.5 C352.9,961.0 350.5,963.0 349.8,965.5 C348.5,968.0 345.5,969.0 343.7,970.1 Z" fill="none" stroke="#1a1a1a" stroke-width="1.1" stroke-linejoin="round" stroke-linecap="round" />
<ellipse cx="360.5" cy="966.5" rx="8.0" ry="4.0" fill="none" stroke="#999" stroke-width="0.9"/>
<ellipse cx="360.5" cy="967.0" rx="4.0" ry="2.0" fill="none" stroke="#aaa" stroke-width="0.8"/>
<path d="M344.5,971.0 C350.5,975.5 368.5,976.0 374.0,971.0" fill="none" stroke="#999" stroke-width="0.8" stroke-linejoin="round" stroke-linecap="round" />
<path d="M129.6,758 L129.6,780" fill="none" stroke="#aaa" stroke-width="0.9" stroke-linejoin="round" stroke-linecap="round" />
<path d="M370.0,695.0 C371.7,695.8 377.3,697.8 380.0,700.0 C382.7,702.2 385.3,705.0 386.0,708.0 C386.7,711.0 386.3,713.8 384.0,718.0 C381.7,722.2 375.7,728.3 372.0,733.0 C368.3,737.7 364.0,741.8 362.0,746.0 C360.0,750.2 359.6,753.2 360.0,758.0 C360.4,762.8 363.8,772.2 364.5,775.0" fill="none" stroke="#1c1c1c" stroke-width="4.4" stroke-linecap="round" stroke-linejoin="round"/>
<path d="M370.0,695.0 C371.7,695.8 377.3,697.8 380.0,700.0 C382.7,702.2 385.3,705.0 386.0,708.0 C386.7,711.0 386.3,713.8 384.0,718.0 C381.7,722.2 375.7,728.3 372.0,733.0 C368.3,737.7 364.0,741.8 362.0,746.0 C360.0,750.2 359.6,753.2 360.0,758.0 C360.4,762.8 363.8,772.2 364.5,775.0" fill="none" stroke="#fff" stroke-width="2.4000000000000004" stroke-linecap="round" stroke-linejoin="round"/>
<path d="M382.0,887.0 C380.7,886.0 376.4,883.5 374.0,881.0 C371.6,878.5 369.0,875.8 367.5,872.0 C366.0,868.2 365.2,862.3 364.8,858.0 C364.4,853.7 364.5,849.3 365.0,846.0 C365.5,842.7 366.3,839.9 368.0,838.0 C369.7,836.1 372.7,835.4 375.0,834.5 C377.3,833.6 380.8,832.8 382.0,832.5" fill="none" stroke="#1c1c1c" stroke-width="4.4" stroke-linecap="round" stroke-linejoin="round"/>
<path d="M382.0,887.0 C380.7,886.0 376.4,883.5 374.0,881.0 C371.6,878.5 369.0,875.8 367.5,872.0 C366.0,868.2 365.2,862.3 364.8,858.0 C364.4,853.7 364.5,849.3 365.0,846.0 C365.5,842.7 366.3,839.9 368.0,838.0 C369.7,836.1 372.7,835.4 375.0,834.5 C377.3,833.6 380.8,832.8 382.0,832.5" fill="none" stroke="#fff" stroke-width="2.4000000000000004" stroke-linecap="round" stroke-linejoin="round"/>
<path d="M450,774 L485.5,759" fill="none" stroke="#1c1c1c" stroke-width="5.4" stroke-linecap="round" stroke-linejoin="round"/>
<path d="M450,774 L485.5,759" fill="none" stroke="#fff" stroke-width="3.3000000000000003" stroke-linecap="round" stroke-linejoin="round"/>
<path d="M457,785 L490,771" fill="none" stroke="#1c1c1c" stroke-width="5.4" stroke-linecap="round" stroke-linejoin="round"/>
<path d="M457,785 L490,771" fill="none" stroke="#fff" stroke-width="3.3000000000000003" stroke-linecap="round" stroke-linejoin="round"/>
<ellipse cx="486.8" cy="758.6" rx="2.8" ry="3.4" fill="#fff" stroke="#1c1c1c" stroke-width="1.1"/>
<ellipse cx="491.3" cy="770.6" rx="2.8" ry="3.4" fill="#fff" stroke="#1c1c1c" stroke-width="1.1"/>
<path d="M381.0,834.0 C383.8,832.8 392.5,828.8 398.0,826.5 C403.5,824.2 408.7,823.1 414.0,820.5 C419.3,817.9 425.0,814.4 430.0,811.0 C435.0,807.6 439.3,803.9 444.0,800.0 C448.7,796.1 455.7,789.6 458.0,787.5" fill="none" stroke="#1c1c1c" stroke-width="10" stroke-linecap="round" stroke-linejoin="round"/>
<path d="M381.0,834.0 C383.8,832.8 392.5,828.8 398.0,826.5 C403.5,824.2 408.7,823.1 414.0,820.5 C419.3,817.9 425.0,814.4 430.0,811.0 C435.0,807.6 439.3,803.9 444.0,800.0 C448.7,796.1 455.7,789.6 458.0,787.5" fill="none" stroke="#fff" stroke-width="7.8" stroke-linecap="round" stroke-linejoin="round"/>
<path d="M365.5,777.0 C365.7,779.3 365.6,786.3 366.8,791.0 C368.1,795.7 370.6,801.4 373.0,805.0 C375.4,808.6 378.2,811.0 381.0,812.5 C383.8,814.0 386.7,813.8 390.0,814.0 C393.3,814.2 397.2,814.4 401.0,813.6 C404.8,812.9 409.0,811.9 413.0,809.5 C417.0,807.1 420.8,802.8 425.0,799.0 C429.2,795.2 433.7,790.8 438.0,787.0 C442.3,783.2 448.8,777.8 451.0,776.0" fill="none" stroke="#1c1c1c" stroke-width="11" stroke-linecap="round" stroke-linejoin="round"/>
<path d="M365.5,777.0 C365.7,779.3 365.6,786.3 366.8,791.0 C368.1,795.7 370.6,801.4 373.0,805.0 C375.4,808.6 378.2,811.0 381.0,812.5 C383.8,814.0 386.7,813.8 390.0,814.0 C393.3,814.2 397.2,814.4 401.0,813.6 C404.8,812.9 409.0,811.9 413.0,809.5 C417.0,807.1 420.8,802.8 425.0,799.0 C429.2,795.2 433.7,790.8 438.0,787.0 C442.3,783.2 448.8,777.8 451.0,776.0" fill="none" stroke="#fff" stroke-width="8.8" stroke-linecap="round" stroke-linejoin="round"/>
<path d="M412.0,817.6 C412.8,817.0 413.0,817.6 417.0,813.8 C421.0,810.0 429.7,800.5 436.0,794.8 C442.3,789.1 451.8,782.0 455.0,779.5" fill="none" stroke="#999" stroke-width="0.9" stroke-linejoin="round" stroke-linecap="round" />
<path d="M360.5,774.5 L369.5,774.2" fill="none" stroke="#333" stroke-width="2.2" stroke-linejoin="round" stroke-linecap="round" />
<path d="M360.8,777.5 L369.7,777.2" fill="none" stroke="#777" stroke-width="0.8" stroke-linejoin="round" stroke-linecap="round" />
<path d="M385.5,808 L386,815" fill="none" stroke="#999" stroke-width="0.9" stroke-linejoin="round" stroke-linecap="round" />
<path d="M412.4,816.5 L414.5,825" fill="none" stroke="#999" stroke-width="0.9" stroke-linejoin="round" stroke-linecap="round" />
<path d="M446,769 C449,772 452,777 452.5,780 M455,780 C458,782 460,785 460.5,788" fill="none" stroke="#444" stroke-width="1.0" stroke-linejoin="round" stroke-linecap="round" />
<path d="M379.5,829 L384.5,837.5" fill="none" stroke="#333" stroke-width="2.0" stroke-linejoin="round" stroke-linecap="round" />
<path d="M379,889 C381,885 386,884.5 389.5,886.5 C393.5,889 395,896 393.5,901 C392,905 388,906 384.5,905 C381,903.5 379.5,899 379,895 Z" fill="#fff" stroke="#1a1a1a" stroke-width="1.1" stroke-linejoin="round" stroke-linecap="round" />
<path d="M383,887 C385.5,891 386,898 384,904" fill="none" stroke="#888" stroke-width="0.8" stroke-linejoin="round" stroke-linecap="round" />
<path d="M370,895 L381,892 M371,904 L381,902" fill="none" stroke="#777" stroke-width="0.9" stroke-linejoin="round" stroke-linecap="round" />
<text x="555.5" y="86.7" class="lb">8</text>
<line x1="550.0" y1="85.7" x2="502.3" y2="114.0" stroke="#1a1a1a" stroke-width="1.3"/>
<path d="M490.1,121.3 L508.6,118.8 L502.3,114.0 L501.2,106.2 Z" fill="#0a0a0a"/>
<text x="428.3" y="240" class="lb">6</text>
<line x1="419.0" y1="241.3" x2="334.7" y2="292.4" stroke="#1a1a1a" stroke-width="1.3"/>
<path d="M322.5,299.8 L341.0,297.1 L334.7,292.4 L333.4,284.6 Z" fill="#0a0a0a"/>
<text x="42.4" y="345" class="lb">4</text>
<line x1="57.4" y1="343.6" x2="108.6" y2="400.6" stroke="#1a1a1a" stroke-width="1.3"/>
<path d="M118.1,411.1 L112.0,393.4 L108.6,400.6 L101.2,403.2 Z" fill="#0a0a0a"/>
<text x="361.8" y="389.3" class="lb">9</text>
<line x1="356.0" y1="388.3" x2="308.2" y2="417.1" stroke="#1a1a1a" stroke-width="1.3"/>
<path d="M296.0,424.5 L314.5,421.8 L308.2,417.1 L307.0,409.3 Z" fill="#0a0a0a"/>
<text x="457.8" y="479.7" class="lb">4</text>
<line x1="453.4" y1="482.4" x2="404.2" y2="538.3" stroke="#1a1a1a" stroke-width="1.3"/>
<path d="M394.8,548.9 L411.7,540.8 L404.2,538.3 L400.7,531.2 Z" fill="#0a0a0a"/>
<text x="652.5" y="309.7" class="lb">1</text>
<line x1="657.6" y1="318.9" x2="656.2" y2="394.2" stroke="#1a1a1a" stroke-width="1.3"/>
<path d="M656.0,408.4 L663.6,391.3 L656.2,394.2 L649.0,391.1 Z" fill="#0a0a0a"/>
<text x="913.0" y="324.8" class="lb">3</text>
<line x1="919.6" y1="331.4" x2="918.7" y2="408.3" stroke="#1a1a1a" stroke-width="1.3"/>
<path d="M918.5,422.5 L926.0,405.4 L918.7,408.3 L911.4,405.2 Z" fill="#0a0a0a"/>
<text x="698.8" y="762.4" class="lb">2</text>
<line x1="689.5" y1="747.6" x2="607.1" y2="692.4" stroke="#1a1a1a" stroke-width="1.3"/>
<path d="M595.4,684.5 L605.6,700.1 L607.1,692.4 L613.7,688.0 Z" fill="#0a0a0a"/>
<text x="543.5" y="876.9" class="lb">5</text>
<line x1="536.4" y1="862.1" x2="453.4" y2="806.4" stroke="#1a1a1a" stroke-width="1.3"/>
<path d="M441.7,798.5 L451.9,814.1 L453.4,806.4 L460.0,802.0 Z" fill="#0a0a0a"/>
<text x="33.0" y="820.7" class="lb">7</text>
<line x1="54.7" y1="810.0" x2="113.5" y2="798.4" stroke="#1a1a1a" stroke-width="1.3"/>
<path d="M127.5,795.7 L109.2,791.9 L113.5,798.4 L112.0,806.2 Z" fill="#0a0a0a"/>
<text x="465.8" y="1007.4" class="lb">7</text>
<line x1="458.8" y1="994.2" x2="385.4" y2="977.8" stroke="#1a1a1a" stroke-width="1.3"/>
<path d="M371.5,974.7 L386.7,985.6 L385.4,977.8 L389.9,971.3 Z" fill="#0a0a0a"/>
<text transform="translate(9.3,1169.2) scale(1.12,1)" class="lg">1.</text><text transform="translate(33.0,1169.2) scale(1.12,1)" class="lg">Pan shroud</text><text transform="translate(9.3,1191.1) scale(1.12,1)" class="lg">2.</text><text transform="translate(33.0,1191.1) scale(1.12,1)" class="lg">Pan</text><text transform="translate(9.3,1213.0) scale(1.12,1)" class="lg">3.</text><text transform="translate(33.0,1213.0) scale(1.12,1)" class="lg">Motor assembly</text><text transform="translate(9.3,1234.9) scale(1.12,1)" class="lg">4.</text><text transform="translate(33.0,1234.9) scale(1.12,1)" class="lg">Radiator upper mounting bracket</text><text transform="translate(9.3,1256.8) scale(1.12,1)" class="lg">5.</text><text transform="translate(33.0,1256.8) scale(1.12,1)" class="lg">Oil cooler assembly</text><text transform="translate(536.4,1169.2) scale(1.12,1)" class="lg">6.</text><text transform="translate(560.4,1169.2) scale(1.12,1)" class="lg">Water pipe assembly</text><text transform="translate(536.4,1191.1) scale(1.12,1)" class="lg">7.</text><text transform="translate(560.4,1191.1) scale(1.12,1)" class="lg">Radiator lower mounting insulator</text><text transform="translate(536.4,1213.0) scale(1.12,1)" class="lg">8.</text><text transform="translate(560.4,1213.0) scale(1.12,1)" class="lg">Radiator reservoir</text><text transform="translate(536.4,1234.9) scale(1.12,1)" class="lg">9.</text><text transform="translate(560.4,1234.9) scale(1.12,1)" class="lg">Cover</text>
</svg></div>
</body></html>
